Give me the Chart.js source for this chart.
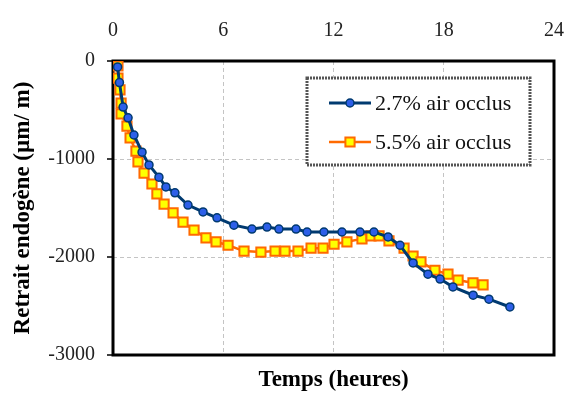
<!DOCTYPE html>
<html>
<head>
<meta charset="utf-8">
<script src="https://cdn.jsdelivr.net/npm/chart.js@4/dist/chart.umd.min.js"></script>
<style>
  html, body { margin: 0; padding: 0; background: #fff; }
  #wrap { width: 564px; height: 394px; }
</style>
</head>
<body>
<div id="wrap"><canvas id="chart" width="564" height="394"></canvas></div>
<script>
// Time (hours) and autogenous shrinkage (µm/m)
const hours27 = [0.25, 0.35, 0.55, 0.82, 1.14, 1.58, 1.96, 2.5, 2.88, 3.37, 4.08, 4.9, 5.66, 6.58, 7.56, 8.38,
                 9.03, 9.96, 10.56, 11.48, 12.46, 13.44, 14.2, 14.97, 15.62, 16.33, 17.14, 17.8, 18.5, 19.6, 20.46, 21.6];
const shrink27 = [-60, -220, -470, -580, -755, -930, -1060, -1185, -1285, -1345, -1470, -1540, -1600, -1675, -1715, -1695,
                  -1715, -1715, -1745, -1745, -1745, -1745, -1745, -1795, -1880, -2060, -2175, -2225, -2305, -2390, -2430, -2510];

const hours55 = [0.27, 0.27, 0.38, 0.44, 0.44, 0.76, 0.93, 1.25, 1.36, 1.69, 2.12, 2.39, 2.78, 3.27, 3.81, 4.41, 5.06, 5.61,
                 6.26, 7.13, 8.05, 8.82, 9.36, 10.07, 10.78, 11.43, 12.03, 12.73, 13.55, 14.04, 14.48, 15.02, 15.84,
                 16.33, 16.76, 17.52, 18.23, 18.78, 19.59, 20.14];
const shrink55 = [-50, -175, -295, -430, -540, -665, -785, -920, -1030, -1145, -1255, -1355, -1460, -1550, -1645, -1725, -1805, -1845,
                  -1880, -1940, -1950, -1940, -1940, -1940, -1910, -1910, -1870, -1845, -1815, -1785, -1785, -1835, -1910,
                  -1990, -2050, -2135, -2175, -2235, -2265, -2285];

const seriesLabels = ['2.7% air occlus', '5.5% air occlus'];
const xTicks = [0, 6, 12, 18, 24];
const yTicks = [0, -1000, -2000, -3000];

const SERIF = "'Liberation Serif', 'DejaVu Serif', serif";

const toPoints = (xs, ys) => xs.map((x, i) => ({ x, y: ys[i] }));

// frame + legend box, drawn under the datasets
const framePlugin = {
  id: 'frame',
  beforeDatasetsDraw(chart) {
    const { ctx, chartArea: a } = chart;
    ctx.save();
    // legend box
    const lx = 307, ly = 78, lw = 223, lh = 87;
    ctx.fillStyle = '#fff';
    ctx.fillRect(lx, ly, lw, lh);
    ctx.lineWidth = 3;
    ctx.strokeStyle = '#555';
    ctx.setLineDash([2, 1]);
    ctx.strokeRect(lx, ly, lw, lh);
    ctx.setLineDash([]);
    // plot frame
    ctx.lineWidth = 3;
    ctx.strokeStyle = '#000';
    ctx.strokeRect(a.left, a.top, a.right - a.left, a.bottom - a.top);
    // legend entries
    const rows = [103, 142];
    chart.data.datasets.forEach((ds, i) => {
      const y = rows[i];
      ctx.strokeStyle = ds.borderColor;
      ctx.lineWidth = ds.borderWidth;
      ctx.beginPath();
      ctx.moveTo(329, y);
      ctx.lineTo(371, y);
      ctx.stroke();
      ctx.fillStyle = ds.pointBackgroundColor;
      ctx.strokeStyle = ds.pointBorderColor;
      ctx.lineWidth = ds.pointBorderWidth;
      ctx.beginPath();
      if (ds.pointStyle === 'rect') {
        const s = Math.SQRT1_2 * ds.pointRadius;
        ctx.rect(350 - s, y - s, 2 * s, 2 * s);
      } else {
        ctx.arc(350, y, ds.pointRadius, 0, Math.PI * 2);
      }
      ctx.fill();
      ctx.stroke();
      ctx.fillStyle = '#111';
      ctx.font = '22px ' + SERIF;
      ctx.textBaseline = 'middle';
      ctx.fillText(ds.label, 375, y + 1);
    });
    ctx.restore();
  },
  afterDraw(chart) {
    // small outward tick marks on the y axis
    const { ctx, chartArea: a, scales } = chart;
    ctx.save();
    ctx.strokeStyle = '#000';
    ctx.lineWidth = 1.5;
    yTicks.forEach(v => {
      const y = scales.y.getPixelForValue(v);
      ctx.beginPath();
      ctx.moveTo(a.left - 6, y);
      ctx.lineTo(a.left, y);
      ctx.stroke();
    });
    ctx.restore();
  }
};

const noOverhang = s => { s.paddingLeft = 0; s.paddingRight = 0; };

new Chart(document.getElementById('chart'), {
  type: 'line',
  data: {
    datasets: [
      {
        label: seriesLabels[0],
        data: toPoints(hours27, shrink27),
        borderColor: '#003a70',
        borderWidth: 3,
        pointStyle: 'circle',
        pointRadius: 4,
        pointBackgroundColor: '#2d5fe8',
        pointBorderColor: '#003a70',
        pointBorderWidth: 1.5,
        tension: 0
      },
      {
        label: seriesLabels[1],
        data: toPoints(hours55, shrink55),
        borderColor: '#ff6a00',
        borderWidth: 2.5,
        pointStyle: 'rect',
        pointRadius: 6.5,
        pointBackgroundColor: '#ffff00',
        pointBorderColor: '#ff6a00',
        pointBorderWidth: 2,
        tension: 0
      }
    ]
  },
  options: {
    responsive: false,
    animation: false,
    events: [],
    layout: { padding: { right: 10, left: 0, top: 0, bottom: 0 } },
    plugins: { legend: { display: false }, tooltip: { enabled: false } },
    scales: {
      x: {
        type: 'linear',
        position: 'top',
        min: 0, max: 24,
        afterBuildTicks: s => { s.ticks = xTicks.map(v => ({ value: v })); },
        afterFit: s => { s.height = 61; noOverhang(s); },
        border: { display: false, dash: [4, 3] },
        grid: { color: '#c4c4c4', lineWidth: 1, drawTicks: false },
        ticks: { padding: 18, color: '#222', font: { family: SERIF, size: 20 }, maxRotation: 0,
                 callback: v => String(v) }
      },
      x2: {
        type: 'linear',
        position: 'bottom',
        min: 0, max: 24,
        afterFit: s => { s.height = 39; noOverhang(s); },
        border: { display: false },
        grid: { display: false, drawTicks: false },
        ticks: { display: false },
        title: { display: true, text: 'Temps (heures)', color: '#000', padding: 0,
                 font: { family: SERIF, size: 23, weight: 'bold' } }
      },
      y: {
        type: 'linear',
        position: 'left',
        min: -3000, max: 0,
        afterBuildTicks: s => { s.ticks = yTicks.map(v => ({ value: v })); },
        afterFit: s => { s.width = 113; },
        border: { display: false, dash: [4, 3] },
        grid: { color: '#c4c4c4', lineWidth: 1, drawTicks: false },
        ticks: { padding: 18, color: '#222', font: { family: SERIF, size: 20 }, callback: v => String(v) },
        title: { display: true, text: 'Retrait endogène (µm/ m)', color: '#000', padding: { top: 9, bottom: 0 },
                 font: { family: SERIF, size: 23, weight: 'bold' } }
      }
    }
  },
  plugins: [framePlugin]
});
</script>
</body>
</html>
